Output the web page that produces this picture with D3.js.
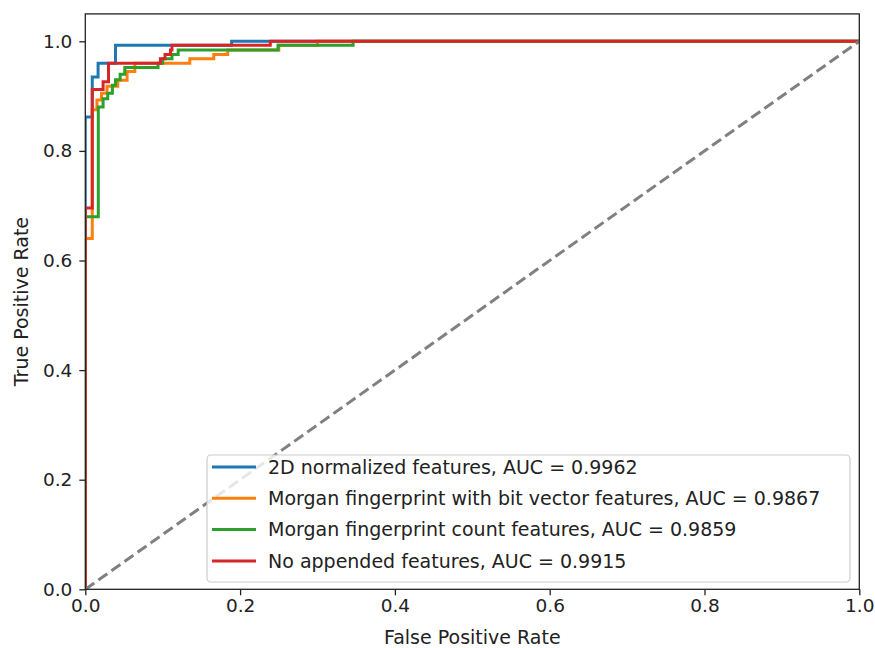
<!DOCTYPE html>
<html>
<head>
<meta charset="utf-8">
<script src="https://cdn.jsdelivr.net/npm/d3@7"></script>
<style>
  body { margin: 0; background: #fff; }
  text { font-family: "DejaVu Sans", sans-serif; fill: #222; }
</style>
</head>
<body>
<div id="chart"></div>
<script>
// dados das curvas ROC
let labels = [
  '2D normalized features, AUC = 0.9962',
  'Morgan fingerprint with bit vector features, AUC = 0.9867',
  'Morgan fingerprint count features, AUC = 0.9859',
  'No appended features, AUC = 0.9915'
];
let colors = ['#1f77b4', '#ff7f0e', '#2ca02c', '#d62728'];

let fpr2D = [0, 0, 0.009, 0.0165, 0.039, 0.189, 1];
let tpr2D = [0, 0.862, 0.935, 0.96, 0.993, 1.0, 1.0];

let fprBit = [0, 0, 0.009, 0.015, 0.021, 0.028, 0.042, 0.054, 0.064, 0.135, 0.166, 0.184, 0.25, 0.30, 1];
let tprBit = [0, 0.64, 0.875, 0.893, 0.905, 0.918, 0.929, 0.945, 0.96, 0.968, 0.976, 0.984, 0.993, 1.0, 1.0];

let fprCount = [0, 0, 0.0168, 0.023, 0.029, 0.035, 0.039, 0.045, 0.051, 0.094, 0.10, 0.112, 0.12, 0.249, 0.346, 1];
let tprCount = [0, 0.680, 0.88, 0.895, 0.905, 0.92, 0.93, 0.94, 0.952, 0.96, 0.968, 0.976, 0.984, 0.993, 1.0, 1.0];

let fprNone = [0, 0, 0.009, 0.023, 0.030, 0.097, 0.103, 0.11, 0.112, 0.239, 1];
let tprNone = [0, 0.696, 0.912, 0.926, 0.96, 0.968, 0.976, 0.984, 0.993, 1.0, 1.0];

let xTicks = [0, 0.2, 0.4, 0.6, 0.8, 1.0];
let yTicks = [0, 0.2, 0.4, 0.6, 0.8, 1.0];

let curves = [
  { fpr: fpr2D, tpr: tpr2D },
  { fpr: fprBit, tpr: tprBit },
  { fpr: fprCount, tpr: tprCount },
  { fpr: fprNone, tpr: tprNone }
];

// tamanho
let width = 875;
let height = 648;
let pLeft = 85.3, pRight = 859.3, pTop = 13.9, pBottom = 589.3;

let svg = d3.select('#chart').append('svg').attr('width', width).attr('height', height);

let x = d3.scaleLinear().domain([0, 1]).range([pLeft, pRight]);
let y = d3.scaleLinear().domain([0, 1.05]).range([pBottom, pTop]);

svg.append('clipPath').attr('id', 'clip')
   .append('rect').attr('x', pLeft).attr('y', pTop).attr('width', pRight - pLeft).attr('height', pBottom - pTop);

let plot = svg.append('g').attr('clip-path', 'url(#clip)');

// linhas em escada
let line = d3.line()
  .x(function (d) { return x(d[0]); })
  .y(function (d) { return y(d[1]); })
  .curve(d3.curveStepAfter);

for (let i = 0; i < curves.length; i++) {
  let pts = curves[i].fpr.map(function (f, j) { return [f, curves[i].tpr[j]]; });
  plot.append('path')
      .attr('fill', 'none')
      .attr('stroke', colors[i])
      .attr('stroke-width', 3)
      .attr('d', line(pts));
}

// diagonal tracejada
plot.append('path')
    .attr('fill', 'none')
    .attr('stroke', 'gray')
    .attr('stroke-width', 3)
    .attr('stroke-dasharray', '11,5')
    .attr('d', d3.line().x(function (d) { return x(d); }).y(function (d) { return y(d); })([0, 1]));

// eixos
let xAxis = d3.axisBottom(x).tickValues(xTicks).tickFormat(d3.format('.1f')).tickSize(6).tickPadding(4);
let yAxis = d3.axisLeft(y).tickValues(yTicks).tickFormat(d3.format('.1f')).tickSize(6).tickPadding(7);

let gx = svg.append('g').attr('transform', 'translate(0,' + pBottom + ')').call(xAxis);
let gy = svg.append('g').attr('transform', 'translate(' + pLeft + ',0)').call(yAxis);
[gx, gy].forEach(function (g) {
  g.select('.domain').remove();
  g.selectAll('line').attr('stroke', '#222').attr('stroke-width', 1.3);
  g.selectAll('text').style('font-size', '18.5px').attr('fill', '#222');
});

svg.append('rect')
   .attr('x', pLeft).attr('y', pTop)
   .attr('width', pRight - pLeft).attr('height', pBottom - pTop)
   .attr('fill', 'none').attr('stroke', '#222').attr('stroke-width', 1.3);

svg.append('text')
   .attr('x', (pLeft + pRight) / 2).attr('y', 644)
   .attr('text-anchor', 'middle').style('font-size', '19px')
   .text('False Positive Rate');

svg.append('text')
   .attr('transform', 'translate(28,' + (pTop + pBottom) / 2 + ') rotate(-90)')
   .attr('text-anchor', 'middle').style('font-size', '19px')
   .text('True Positive Rate');

// legenda
let leg = svg.append('g');
leg.append('rect')
   .attr('x', 207).attr('y', 455).attr('width', 643).attr('height', 127).attr('rx', 4)
   .attr('fill', 'white').attr('fill-opacity', 0.8)
   .attr('stroke', '#ccc').attr('stroke-width', 1.2);

let rows = leg.selectAll('g.row').data(labels).enter().append('g')
   .attr('class', 'row')
   .attr('transform', function (d, i) { return 'translate(0,' + (467 + i * 31.3) + ')'; });

rows.append('line')
    .attr('x1', 212).attr('x2', 256).attr('y1', 0).attr('y2', 0)
    .attr('stroke', function (d, i) { return colors[i]; })
    .attr('stroke-width', 3);

rows.append('text')
    .attr('x', 268).attr('y', 0).attr('dy', '0.35em')
    .style('font-size', '19px')
    .text(function (d) { return d; });
</script>
</body>
</html>
